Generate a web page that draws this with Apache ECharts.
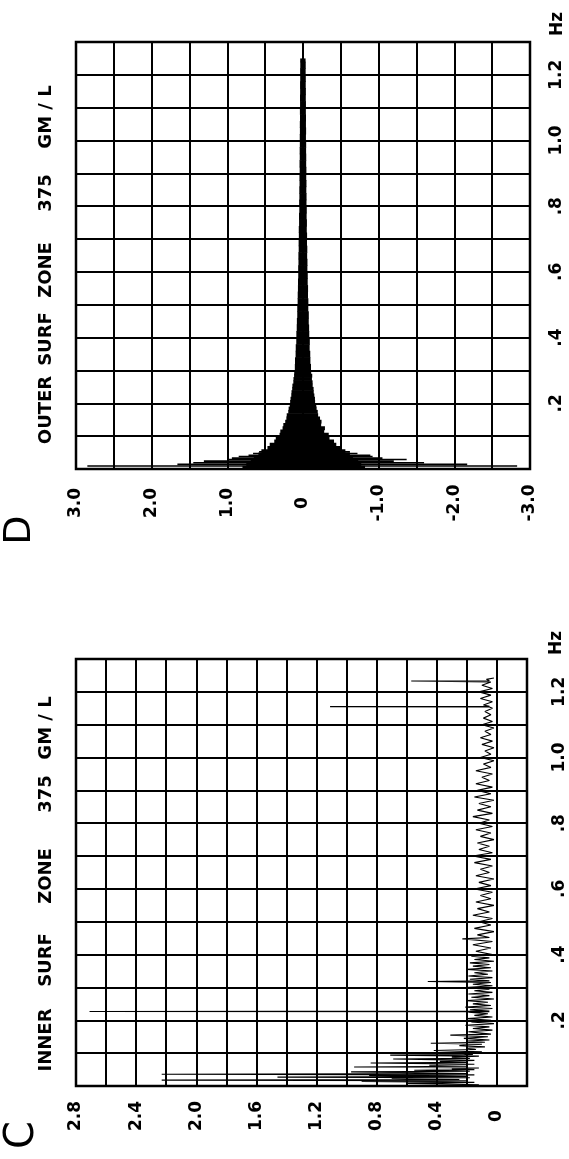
<!DOCTYPE html>
<html>
<head>
<meta charset="utf-8">
<script src="https://cdn.jsdelivr.net/npm/echarts@6/dist/echarts.min.js"></script>
<style>
  html, body { margin: 0; padding: 0; background: #fff; }
  #chart { width: 569px; height: 1159px; }
</style>
</head>
<body>
<div id="chart"></div>
<script>
// ---- data ----
// D, outer surf zone: [freq Hz, left extent, right extent]
var outerBand = [
  [0.005, 0.80, -0.82], [0.01, 0.75, -0.77], [0.02, 0.69, -0.73], [0.03, 0.65, -0.66],
  [0.04, 0.59, -0.62], [0.05, 0.55, -0.56], [0.06, 0.47, -0.51], [0.07, 0.44, -0.44],
  [0.08, 0.38, -0.41], [0.09, 0.36, -0.35], [0.10, 0.31, -0.34], [0.11, 0.30, -0.28],
  [0.12, 0.27, -0.29], [0.13, 0.26, -0.24], [0.14, 0.235, -0.245], [0.15, 0.22, -0.225],
  [0.16, 0.215, -0.20], [0.17, 0.195, -0.195], [0.18, 0.19, -0.18], [0.19, 0.175, -0.175],
  [0.20, 0.17, -0.16], [0.21, 0.165, -0.158], [0.22, 0.155, -0.15], [0.23, 0.152, -0.142],
  [0.24, 0.143, -0.14], [0.25, 0.14, -0.128], [0.26, 0.128, -0.127], [0.27, 0.126, -0.118],
  [0.28, 0.118, -0.122], [0.29, 0.116, -0.108], [0.30, 0.108, -0.106], [0.32, 0.106, -0.098],
  [0.34, 0.098, -0.096], [0.36, 0.096, -0.088], [0.38, 0.089, -0.09], [0.40, 0.088, -0.083],
  [0.42, 0.083, -0.081], [0.44, 0.081, -0.076], [0.46, 0.076, -0.077], [0.48, 0.076, -0.07],
  [0.50, 0.071, -0.071], [0.52, 0.07, -0.066], [0.54, 0.067, -0.067], [0.56, 0.066, -0.062],
  [0.58, 0.063, -0.063], [0.60, 0.064, -0.058], [0.62, 0.06, -0.059], [0.64, 0.061, -0.055],
  [0.66, 0.057, -0.057], [0.68, 0.058, -0.053], [0.70, 0.055, -0.054], [0.72, 0.056, -0.05],
  [0.74, 0.052, -0.052], [0.76, 0.053, -0.048], [0.78, 0.049, -0.05], [0.80, 0.051, -0.046],
  [0.82, 0.048, -0.047], [0.84, 0.049, -0.044], [0.86, 0.046, -0.046], [0.88, 0.047, -0.043],
  [0.90, 0.044, -0.045], [0.92, 0.046, -0.042], [0.94, 0.043, -0.043], [0.96, 0.044, -0.041],
  [0.98, 0.042, -0.042], [1.00, 0.043, -0.039], [1.02, 0.041, -0.041], [1.04, 0.042, -0.039],
  [1.06, 0.04, -0.04], [1.08, 0.041, -0.038], [1.10, 0.039, -0.039], [1.12, 0.04, -0.037],
  [1.14, 0.038, -0.038], [1.16, 0.039, -0.036], [1.18, 0.037, -0.037], [1.20, 0.038, -0.035],
  [1.22, 0.036, -0.036], [1.24, 0.037, -0.034]
];
// D, long single strokes at the lowest frequencies
var outerStrokes = [
  [0.009, 2.85, -2.83], [0.014, 1.66, -2.17], [0.019, 1.45, -1.60], [0.024, 1.31, -1.20],
  [0.029, 0.98, -1.37], [0.033, 0.94, -1.05], [0.038, 0.85, -0.92], [0.042, 0.72, -0.89],
  [0.047, 0.66, -0.72], [0.052, 0.58, -0.62]
];
// C, inner surf zone trace: [freq Hz, amplitude]
var innerTrace = [
  [0.004, 0.12], [0.008, 0.60], [0.011, 0.15], [0.014, 0.90], [0.016, 0.20], [0.018, 2.23],
  [0.020, 0.25], [0.023, 0.70], [0.025, 0.18], [0.027, 1.46], [0.029, 0.20], [0.032, 0.85],
  [0.034, 0.15], [0.036, 2.23], [0.038, 0.20], [0.041, 0.65], [0.043, 0.97], [0.045, 0.18],
  [0.048, 0.55], [0.050, 0.15], [0.052, 0.30], [0.055, 0.12], [0.058, 0.95], [0.060, 0.20],
  [0.063, 0.45], [0.066, 0.15], [0.070, 0.84], [0.072, 0.20], [0.075, 0.38], [0.078, 0.15],
  [0.082, 0.69], [0.084, 0.18], [0.088, 0.30], [0.091, 0.12], [0.094, 0.71], [0.096, 0.16],
  [0.100, 0.24], [0.104, 0.10], [0.108, 0.42], [0.111, 0.14], [0.115, 0.20], [0.119, 0.08],
  [0.123, 0.25], [0.127, 0.10], [0.130, 0.44], [0.133, 0.08], [0.137, 0.20], [0.140, 0.05],
  [0.145, 0.22], [0.150, 0.06], [0.155, 0.31], [0.158, 0.04],
  [0.165, 0.19], [0.170, 0.03], [0.175, 0.16], [0.180, 0.05], [0.185, 0.21], [0.190, 0.02],
  [0.195, 0.17], [0.200, 0.04], [0.205, 0.20], [0.210, 0.03], [0.215, 0.15], [0.220, 0.06],
  [0.225, 0.19], [0.226, 0.05], [0.227, 2.71], [0.228, 0.05], [0.232, 0.18], [0.236, 0.03],
  [0.240, 0.21], [0.245, 0.04], [0.250, 0.16], [0.255, 0.06], [0.260, 0.20], [0.265, 0.02],
  [0.270, 0.17], [0.275, 0.05], [0.280, 0.19], [0.285, 0.03], [0.290, 0.15], [0.295, 0.05],
  [0.300, 0.21], [0.305, 0.03], [0.310, 0.16], [0.315, 0.04], [0.318, 0.46], [0.320, 0.05],
  [0.325, 0.18], [0.330, 0.03], [0.335, 0.19], [0.340, 0.06], [0.345, 0.15], [0.350, 0.03],
  [0.355, 0.20], [0.360, 0.04], [0.365, 0.16], [0.370, 0.05], [0.375, 0.18], [0.380, 0.02],
  [0.385, 0.15], [0.390, 0.05], [0.395, 0.17], [0.400, 0.03], [0.410, 0.14], [0.420, 0.04],
  [0.430, 0.16], [0.440, 0.03], [0.448, 0.23], [0.452, 0.05], [0.460, 0.13], [0.470, 0.02],
  [0.480, 0.15], [0.490, 0.04], [0.500, 0.12], [0.510, 0.03], [0.520, 0.16], [0.530, 0.05],
  [0.540, 0.13], [0.550, 0.02], [0.560, 0.14], [0.570, 0.04], [0.580, 0.11], [0.590, 0.03],
  [0.600, 0.15], [0.610, 0.04], [0.620, 0.12], [0.630, 0.02], [0.640, 0.14], [0.650, 0.05],
  [0.660, 0.11], [0.670, 0.03], [0.680, 0.15], [0.690, 0.04], [0.700, 0.16], [0.710, 0.03],
  [0.720, 0.12], [0.730, 0.05], [0.740, 0.13], [0.750, 0.02], [0.760, 0.11], [0.770, 0.04],
  [0.780, 0.14], [0.790, 0.03], [0.800, 0.12], [0.810, 0.05], [0.820, 0.16], [0.830, 0.03],
  [0.840, 0.13], [0.850, 0.04], [0.860, 0.12], [0.870, 0.02], [0.880, 0.15], [0.890, 0.04],
  [0.900, 0.13], [0.910, 0.03], [0.920, 0.14], [0.930, 0.05], [0.940, 0.10], [0.950, 0.03],
  [0.960, 0.14], [0.970, 0.04], [0.980, 0.09], [0.990, 0.02], [1.000, 0.11], [1.010, 0.04],
  [1.020, 0.08], [1.030, 0.02], [1.040, 0.10], [1.050, 0.03], [1.060, 0.11], [1.070, 0.04],
  [1.080, 0.08], [1.090, 0.02], [1.100, 0.10], [1.110, 0.03], [1.120, 0.09], [1.130, 0.04],
  [1.140, 0.08], [1.150, 0.03], [1.154, 0.05], [1.155, 1.11], [1.156, 0.05], [1.160, 0.09],
  [1.170, 0.03], [1.180, 0.11], [1.190, 0.04], [1.200, 0.12], [1.210, 0.03], [1.220, 0.10],
  [1.230, 0.04], [1.232, 0.05], [1.233, 0.57], [1.234, 0.05], [1.238, 0.07], [1.242, 0.02]
];

var outerTitle = ['OUTER', 'SURF', 'ZONE', '375', 'GM / L'];
var innerTitle = ['INNER', 'SURF', 'ZONE', '375', 'GM / L'];

// ---- layout ----
var FONT = 'DejaVu Sans';
var outerTitleY = [410, 339, 270, 193, 117];
var innerTitleY = [1040, 960, 876, 794, 728];

function rotText(x, y, text, size, weight) {
  return {
    type: 'text', x: x, y: y, rotation: Math.PI / 2, silent: true,
    style: {
      text: text, fontSize: size, fontWeight: weight, fontFamily: FONT, fill: '#000',
      align: 'center', verticalAlign: 'middle', textAlign: 'center', textVerticalAlign: 'middle'
    }
  };
}

function freqLabel(v) {
  var k = Math.round(v * 10);
  if (k == 0 || k % 2 != 0) return '';
  if (k < 10) return '.' + k;
  return (k / 10).toFixed(1);
}
function outerLabel(v) {
  var k = Math.round(v * 10);
  if (k % 10 != 0) return '';
  if (k == 0) return '0';
  return (k / 10).toFixed(1);
}
function innerLabel(v) {
  var k = Math.round(v * 10);
  if (k < 0 || k % 4 != 0) return '';
  if (k == 0) return '0';
  return (k / 10).toFixed(1);
}

function labelStyle(margin, fmt) {
  return {
    show: true, rotate: 90, margin: margin, align: 'center', verticalAlign: 'middle',
    fontFamily: FONT, fontWeight: 'bold', fontSize: 17, color: '#000', formatter: fmt
  };
}
var gridLine = { show: true, lineStyle: { color: '#000', width: 2 } };

// band: one filled strip per reading, up to the next reading
function renderBand(params, api) {
  var i = params.dataIndex;
  var f0 = api.value(0);
  var f1 = i + 1 < outerBand.length ? outerBand[i + 1][0] : f0 + 0.01;
  var a = api.coord([api.value(1), f0]);
  var b = api.coord([api.value(2), f1]);
  return {
    type: 'rect',
    shape: {
      x: Math.min(a[0], b[0]), y: Math.min(a[1], b[1]),
      width: Math.abs(b[0] - a[0]), height: Math.abs(b[1] - a[1]) + 0.6
    },
    style: { fill: '#000' }
  };
}
function renderStroke(params, api) {
  var f = api.value(0);
  var a = api.coord([api.value(1), f]);
  var b = api.coord([api.value(2), f]);
  return {
    type: 'line',
    shape: { x1: a[0], y1: a[1], x2: b[0], y2: b[1] },
    style: { stroke: '#000', lineWidth: 1.6 }
  };
}

var graphics = [];
outerTitle.forEach(function (w, i) { graphics.push(rotText(46, outerTitleY[i], w, 18, 'bold')); });
innerTitle.forEach(function (w, i) { graphics.push(rotText(46, innerTitleY[i], w, 18, 'bold')); });
graphics.push(rotText(558, 24, 'Hz', 17, 'bold'));
graphics.push(rotText(557, 643, 'Hz', 17, 'bold'));
graphics.push(rotText(20, 530, 'D', 38, 'normal'));
graphics.push(rotText(23, 1135, 'C', 40, 'normal'));

var chart = echarts.init(document.getElementById('chart'), null, { renderer: 'canvas' });
var option = {
  backgroundColor: '#fff',
  animation: false,
  textStyle: { fontFamily: FONT },
  grid: [
    { left: 76, top: 42, width: 454, height: 427, show: true, borderColor: '#000', borderWidth: 2.5,
      backgroundColor: 'transparent', containLabel: false, outerBoundsMode: 'none' },
    { left: 76, top: 659, width: 451, height: 427, show: true, borderColor: '#000', borderWidth: 2.5,
      backgroundColor: 'transparent', containLabel: false, outerBoundsMode: 'none' }
  ],
  xAxis: [
    { type: 'value', gridIndex: 0, min: -3, max: 3, interval: 0.5, inverse: true, position: 'bottom',
      axisLine: { show: false }, axisTick: { show: false }, splitLine: gridLine,
      axisLabel: labelStyle(34, outerLabel) },
    { type: 'value', gridIndex: 1, min: -0.2, max: 2.8, interval: 0.2, inverse: true, position: 'bottom',
      axisLine: { show: false }, axisTick: { show: false }, splitLine: gridLine,
      axisLabel: labelStyle(30, innerLabel) }
  ],
  yAxis: [
    { type: 'value', gridIndex: 0, min: 0, max: 1.3, interval: 0.1, position: 'right',
      axisLine: { show: false }, axisTick: { show: false }, splitLine: gridLine,
      axisLabel: labelStyle(27, freqLabel) },
    { type: 'value', gridIndex: 1, min: 0, max: 1.3, interval: 0.1, position: 'right',
      axisLine: { show: false }, axisTick: { show: false }, splitLine: gridLine,
      axisLabel: labelStyle(33, freqLabel) }
  ],
  series: [
    { type: 'custom', name: 'outer band', xAxisIndex: 0, yAxisIndex: 0, renderItem: renderBand,
      encode: { x: [1, 2], y: 0 }, data: outerBand, silent: true },
    { type: 'custom', name: 'outer strokes', xAxisIndex: 0, yAxisIndex: 0, renderItem: renderStroke,
      encode: { x: [1, 2], y: 0 }, data: outerStrokes, silent: true },
    { type: 'line', name: 'inner trace', xAxisIndex: 1, yAxisIndex: 1, showSymbol: false, symbol: 'none',
      data: innerTrace.map(function (p) { return [p[1], p[0]]; }),
      lineStyle: { color: '#000', width: 1.1 }, silent: true }
  ],
  graphic: graphics
};
chart.setOption(option);
</script>
</body>
</html>
